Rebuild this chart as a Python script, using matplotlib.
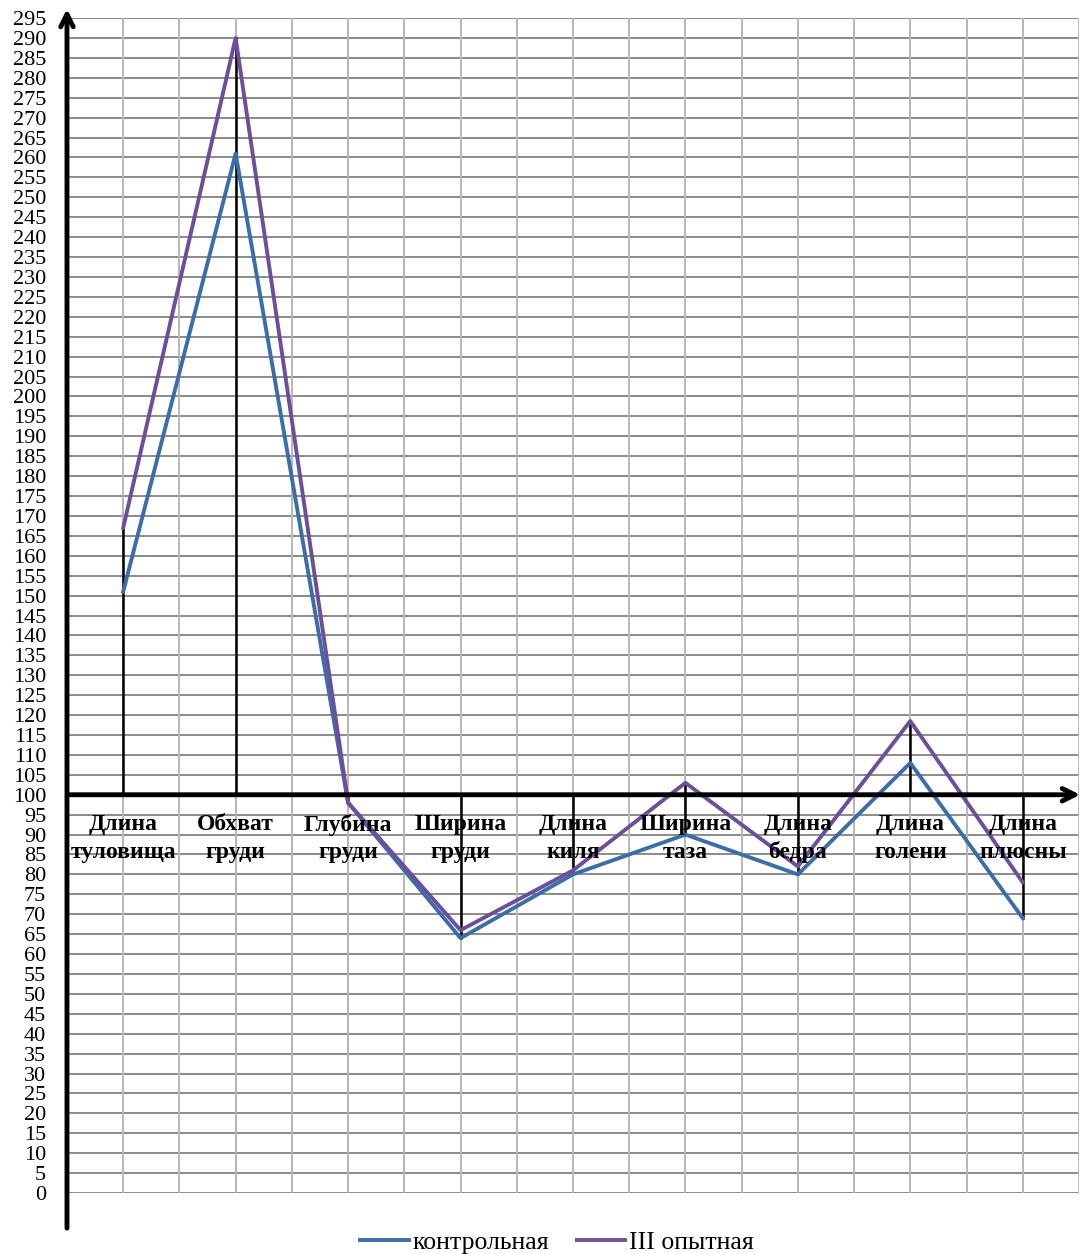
import matplotlib
matplotlib.use('Agg')
import matplotlib.pyplot as plt
import numpy as np

plt.rcParams['font.family'] = ['Liberation Serif', 'DejaVu Serif']

# body measurements, index relative to standard (100)
categories = ['Длина\nтуловища', 'Обхват\nгруди', 'Глубина\nгруди', 'Ширина\nгруди',
              'Длина\nкиля', 'Ширина\nтаза', 'Длина\nбедра', 'Длина\nголени', 'Длина\nплюсны']
control = [151, 261, 98, 64, 80, 90, 80, 108, 69]
group3 = [167, 290, 98, 66, 81, 103, 82, 118.5, 78]
series_names = ['контрольная', 'III опытная']
base = 100

fig = plt.figure(figsize=(10.82, 12.54), dpi=100)
ax = fig.add_axes([0.0619, 0.0486, 0.9353, 0.937])

x = np.arange(len(categories))
ax.set_xlim(-0.5, len(categories) - 0.5)
ax.set_ylim(0, 295)

# grid: horizontal every 5, vertical every half category
for yv in range(0, 300, 5):
    ax.axhline(yv, color='#8a8a8a', lw=1.4, zorder=0)
for xv in np.arange(0, len(categories) + 0.01, 0.5):
    ax.axvline(xv - 0.5, color='#b8b8b8', lw=1.4, zorder=0)

# drop / high-low lines to the base line
for i in x:
    lo = min(control[i], group3[i], base)
    hi = max(control[i], group3[i], base)
    ax.plot([i, i], [lo, hi], color='black', lw=1.8, zorder=2)

ax.plot(x, control, color='#3b6ea9', lw=2.8, label=series_names[0], zorder=3)
ax.plot(x, group3, color='#6c4f9a', lw=2.8, label=series_names[1], zorder=3)

# axes with arrows
ax.annotate('', xy=(-0.5, 298), xytext=(-0.5, -9.5),
            arrowprops=dict(arrowstyle='->,head_length=0.9,head_width=0.45', lw=3.5, color='black'),
            annotation_clip=False, zorder=5)
ax.annotate('', xy=(8.535, base), xytext=(-0.5, base),
            arrowprops=dict(arrowstyle='->,head_length=0.9,head_width=0.45', lw=3.5, color='black'),
            annotation_clip=False, zorder=5)

for i, lab in enumerate(categories):
    ax.text(i, 89.0, lab, ha='center', va='center', fontsize=17, fontweight='bold',
            linespacing=1.4, zorder=4)

for s in ax.spines.values():
    s.set_visible(False)
ax.set_xticks([])
ax.set_yticks(range(0, 300, 5))
ax.tick_params(axis='y', length=0, pad=15, labelsize=16)

fig.legend(loc='center', bbox_to_anchor=(0.515, 0.0095), ncol=2, frameon=False,
           fontsize=18.5, handlelength=1.9, handletextpad=0.15, columnspacing=1.05)

fig.savefig('out.png', dpi=100)
